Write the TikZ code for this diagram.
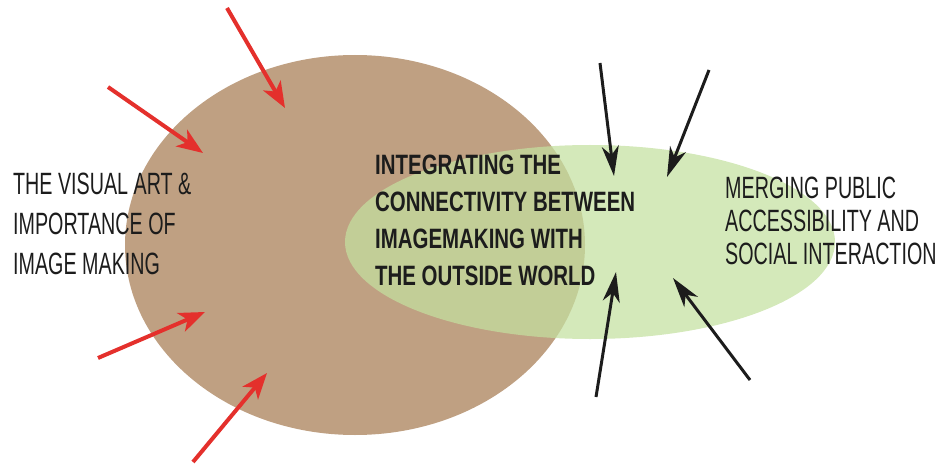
\documentclass[tikz,border=0pt]{standalone}
\usepackage{fontspec}
\newfontfamily\sidefont{Liberation Sans}[FakeStretch=0.64]
\newfontfamily\mergefont{Liberation Sans}[FakeStretch=0.73]
\usetikzlibrary{arrows.meta,shapes.geometric}
\definecolor{artbrown}{RGB}{191,160,130}
\definecolor{publicgreen}{RGB}{196,224,160}
\definecolor{pushred}{RGB}{228,48,44}
\definecolor{inkgray}{RGB}{28,28,28}

\begin{document}
\begin{tikzpicture}[x=1pt,y=-1pt,
  redpush/.style={draw=pushred,line width=4pt,-{Stealth[length=26pt,width=20pt,inset=7pt]}},
  blackpush/.style={draw=inkgray,line width=3pt,-{Stealth[length=30pt,width=17pt,inset=9pt]}},
  sidetext/.style={inner sep=0pt,align=left,text=inkgray,anchor=west},
  zone/.style={ellipse,inner sep=0pt}]
  \useasboundingbox (0,0) rectangle (936,465);

  \node[zone,fill=artbrown,minimum width=460pt,minimum height=380pt] (art) at (355,245) {};
  \node[zone,fill=publicgreen,fill opacity=0.72,minimum width=490pt,minimum height=194pt] (public) at (590,242) {};

  \node[sidetext,font=\sidefont\fontsize{30.8}{40}\selectfont] (visual) at (13,224)
    {THE VISUAL ART \&\\IMPORTANCE OF\\IMAGE MAKING};
  \node[sidetext,font=\mergefont\bfseries\fontsize{28}{37}\selectfont] (integrate) at (375,220)
    {INTEGRATING THE\\CONNECTIVITY BETWEEN\\IMAGEMAKING WITH\\THE OUTSIDE WORLD};
  \node[sidetext,font=\sidefont\fontsize{30.8}{33}\selectfont] (merging) at (725,221)
    {MERGING PUBLIC\\ACCESSIBILITY AND\\SOCIAL INTERACTION};

  % arrows pushing in
  \coordinate (red1) at (227,8);    \coordinate (red1in) at (285,108);
  \coordinate (red2) at (108,87);   \coordinate (red2in) at (203,153);
  \coordinate (red3) at (98,358);   \coordinate (red3in) at (205,312);
  \coordinate (red4) at (193,462);  \coordinate (red4in) at (267,373);
  \coordinate (blk1) at (600,63);   \coordinate (blk1in) at (614,176);
  \coordinate (blk2) at (709,70);   \coordinate (blk2in) at (667,177);
  \coordinate (blk3) at (596,397);  \coordinate (blk3in) at (616,272);
  \coordinate (blk4) at (750,380);  \coordinate (blk4in) at (673,278);

  \draw[redpush] (red1) -- (red1in);
  \draw[redpush] (red2) -- (red2in);
  \draw[redpush] (red3) -- (red3in);
  \draw[redpush] (red4) -- (red4in);
  \draw[blackpush] (blk1) -- (blk1in);
  \draw[blackpush] (blk2) -- (blk2in);
  \draw[blackpush] (blk3) -- (blk3in);
  \draw[blackpush] (blk4) -- (blk4in);
\end{tikzpicture}
\end{document}
